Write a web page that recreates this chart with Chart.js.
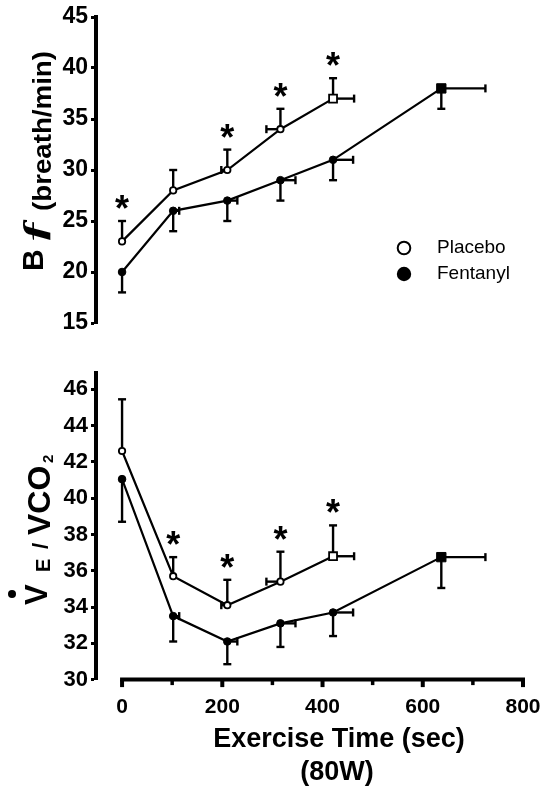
<!DOCTYPE html>
<html>
<head>
<meta charset="utf-8">
<script src="https://cdn.jsdelivr.net/npm/chart.js@4.4.1/dist/chart.umd.min.js"></script>
<style>
  html, body { margin: 0; padding: 0; background: #fff; }
  #wrap { position: relative; width: 556px; height: 793px; }
  canvas { position: absolute; left: 0; }
  #bfChart { top: 0; }
  #veChart { top: 340px; }
</style>
</head>
<body>
<div id="wrap">
  <canvas id="bfChart" width="556" height="340"></canvas>
  <canvas id="veChart" width="556" height="453"></canvas>
</div>
<script>
const FONT = '"Liberation Sans", Arial, sans-serif';

// exercise time of each stage (sec)
const placeboTime = [0, 102, 210, 316, 421];
const fentanylTime = [0, 102, 210, 316, 421, 637];
// horizontal SE of time (one sided, as drawn in the figure)
const placeboTimeLo = [0, 0, 12, 28, 0];
const placeboTimeHi = [0, 0, 0, 0, 42];
const fentanylTimeHi = [0, 12, 20, 30, 40, 88];

// breathing frequency (breath/min)
const bfPlacebo = [23, 28, 30, 34, 37];
const bfPlaceboErr = [2, 2, 2, 2, 2];
const bfFentanyl = [20, 26, 27, 29, 31, 38];
const bfFentanylErr = [2, 2, 2, 2, 2, 2];
const bfStars = [0, 2, 3, 4];
const bfTicks = [15, 20, 25, 30, 35, 40, 45];

// VE / VCO2
const vePlacebo = [42.6, 35.7, 34.1, 35.4, 36.8];
const vePlaceboErr = [2.85, 1.05, 1.4, 1.65, 1.7];
const veFentanyl = [41.05, 33.5, 32.1, 33.1, 33.7, 36.75];
const veFentanylErr = [2.35, 1.4, 1.25, 1.3, 1.3, 1.7];
const veStars = [1, 2, 3, 4];
const veTicks = [30, 32, 34, 36, 38, 40, 42, 44, 46];

const xTicks = [0, 200, 400, 600, 800];
const xMinorTicks = [100, 300, 500, 700];
const legendLabels = ['Placebo', 'Fentanyl'];

const toPoints = (xs, ys) => xs.map((t, i) => ({ x: t, y: ys[i] }));

function makeDatasets(pY, pErr, fY, fErr) {
  return [
    {
      label: legendLabels[0],
      data: toPoints(placeboTime, pY),
      errUp: pErr, errDown: [], tLo: placeboTimeLo, tHi: placeboTimeHi,
      borderColor: '#000', borderWidth: 2.2,
      pointStyle: ['circle', 'circle', 'circle', 'circle', 'rect'],
      pointRadius: [3.2, 3.2, 3.2, 3.2, 5.6],
      pointBackgroundColor: '#fff', pointBorderColor: '#000', pointBorderWidth: 1.8
    },
    {
      label: legendLabels[1],
      data: toPoints(fentanylTime, fY),
      errUp: [], errDown: fErr, tLo: [], tHi: fentanylTimeHi,
      borderColor: '#000', borderWidth: 2.2,
      pointStyle: ['circle', 'circle', 'circle', 'circle', 'circle', 'rect'],
      pointRadius: [3.8, 3.8, 3.8, 3.8, 3.8, 6.6],
      pointBackgroundColor: '#000', pointBorderColor: '#000', pointBorderWidth: 1
    }
  ];
}

// vertical and horizontal error bars, under the markers
const errorBars = {
  id: 'errorBars',
  beforeDatasetsDraw(chart) {
    const { ctx, scales: { x, y } } = chart;
    ctx.save();
    ctx.strokeStyle = '#000';
    ctx.lineWidth = 2.4;
    const cap = 4;
    const seg = (x1, y1, x2, y2) => { ctx.beginPath(); ctx.moveTo(x1, y1); ctx.lineTo(x2, y2); ctx.stroke(); };
    chart.data.datasets.forEach(ds => {
      ds.data.forEach((p, i) => {
        const px = x.getPixelForValue(p.x), py = y.getPixelForValue(p.y);
        [ds.errUp[i], -(ds.errDown[i] || 0)].forEach(e => {
          if (!e) return;
          const ey = y.getPixelForValue(p.y + e);
          seg(px, py, px, ey);
          seg(px - cap, ey, px + cap, ey);
        });
        [-(ds.tLo[i] || 0), ds.tHi[i]].forEach(e => {
          if (!e) return;
          const ex = x.getPixelForValue(p.x + e);
          seg(px, py, ex, py);
          seg(ex, py - cap, ex, py + cap);
        });
      });
    });
    ctx.restore();
  },
  afterDatasetsDraw(chart, args, opts) {
    const { ctx, scales: { x, y } } = chart;
    const ds = chart.data.datasets[0];
    ctx.save();
    ctx.fillStyle = '#000';
    ctx.font = 'bold 36px ' + FONT;
    ctx.textAlign = 'center';
    ctx.textBaseline = 'alphabetic';
    const m = ctx.measureText('*');
    const half = (m.actualBoundingBoxAscent - m.actualBoundingBoxDescent) / 2;
    opts.stars.forEach(i => {
      const p = ds.data[i];
      const top = y.getPixelForValue(p.y + ds.errUp[i]);
      ctx.fillText('*', x.getPixelForValue(p.x), top - 19 + half);
    });
    ctx.restore();
  }
};

function rotatedText(ctx, str, font, bx, startY, len) {
  ctx.save();
  ctx.font = font;
  ctx.translate(bx, startY);
  ctx.rotate(-Math.PI / 2);
  if (len) ctx.scale(len / ctx.measureText(str).width, 1);
  ctx.textAlign = 'left';
  ctx.textBaseline = 'alphabetic';
  ctx.fillText(str, 0, 0);
  ctx.restore();
}

// y titles, legend and the offset x axis
const decorations = {
  id: 'decorations',
  afterDraw(chart, args, opts) {
    const { ctx } = chart;
    ctx.save();
    ctx.fillStyle = '#000';
    ctx.strokeStyle = '#000';
    if (opts.panel === 'bf') {
      rotatedText(ctx, 'B', 'bold 30px ' + FONT, 43, 271);
      rotatedText(ctx, 'ƒ', 'bold italic 34px "Liberation Serif", serif', 45, 244, 26);
      rotatedText(ctx, '(breath/min)', 'bold 25px ' + FONT, 51, 211, 160);

      // legend
      ctx.lineWidth = 2;
      ctx.beginPath(); ctx.arc(404, 248, 6.3, 0, Math.PI * 2);
      ctx.fillStyle = '#fff'; ctx.fill(); ctx.stroke();
      ctx.fillStyle = '#000';
      ctx.beginPath(); ctx.arc(404, 274, 7.2, 0, Math.PI * 2); ctx.fill();
      ctx.font = '19px ' + FONT;
      ctx.textBaseline = 'middle';
      ctx.fillText(chart.data.datasets[0].label, 437, 248);
      ctx.fillText(chart.data.datasets[1].label, 437, 274);
    } else {
      const off = 340;
      rotatedText(ctx, 'V', 'bold 31px ' + FONT, 47, 605 - off);
      ctx.beginPath(); ctx.arc(12, 594 - off, 4, 0, Math.PI * 2); ctx.fill();
      rotatedText(ctx, 'E', 'bold 20px ' + FONT, 50, 572 - off);
      rotatedText(ctx, '/', 'bold 22px ' + FONT, 48, 549 - off);
      rotatedText(ctx, 'VCO', 'bold 32px ' + FONT, 50, 535 - off);
      rotatedText(ctx, '2', 'bold 15px ' + FONT, 53, 463 - off);

      // x axis, offset from the y axis
      const x = chart.scales.x;
      const yb = chart.chartArea.bottom;
      ctx.lineWidth = 4;
      ctx.beginPath();
      ctx.moveTo(x.getPixelForValue(xTicks[0]) - 2, yb);
      ctx.lineTo(x.getPixelForValue(xTicks[xTicks.length - 1]) + 2, yb);
      ctx.stroke();
      xTicks.forEach(v => {
        const px = x.getPixelForValue(v);
        ctx.beginPath(); ctx.moveTo(px, yb); ctx.lineTo(px, yb + 7.5); ctx.stroke();
      });
      ctx.lineWidth = 3.5;
      xMinorTicks.forEach(v => {
        const px = x.getPixelForValue(v);
        ctx.beginPath(); ctx.moveTo(px, yb); ctx.lineTo(px, yb + 5.5); ctx.stroke();
      });
      ctx.font = 'bold 27px ' + FONT;
      ctx.textAlign = 'center';
      ctx.textBaseline = 'alphabetic';
      ctx.fillText('Exercise Time (sec)', 339, 747 - off);
      ctx.fillText('(80W)', 337, 780 - off);
    }
    ctx.restore();
  }
};

function yAxis(min, max, ticks, size) {
  return {
    type: 'linear', min, max,
    afterFit: s => { s.width = 96; },
    afterBuildTicks: s => { s.ticks = ticks.map(v => ({ value: v })); },
    border: { display: true, color: '#000', width: 4 },
    grid: { drawOnChartArea: false, drawTicks: true, tickLength: 5, tickWidth: 3, tickColor: '#000' },
    ticks: { color: '#000', padding: 3, font: { family: FONT, size, weight: 'bold' } }
  };
}

function makeChart(id, panel, datasets, yScale, stars, padding, showX) {
  return new Chart(document.getElementById(id), {
    type: 'line',
    data: { datasets },
    options: {
      responsive: false,
      animation: false,
      devicePixelRatio: 1,
      layout: { padding },
      plugins: {
        legend: { display: false },
        tooltip: { enabled: false },
        errorBars: { stars },
        decorations: { panel }
      },
      scales: {
        x: {
          type: 'linear', min: -52, max: 800,
          display: showX,
          afterFit: s => { s.height = showX ? 113.4 : 0; },
          afterBuildTicks: s => { s.ticks = xTicks.map(v => ({ value: v })); },
          border: { display: false },
          grid: { display: false, drawTicks: false },
          ticks: { color: '#000', padding: 15, maxRotation: 0, font: { family: FONT, size: 21, weight: 'bold' } }
        },
        y: yScale
      }
    },
    plugins: [errorBars, decorations]
  });
}

makeChart('bfChart', 'bf', makeDatasets(bfPlacebo, bfPlaceboErr, bfFentanyl, bfFentanylErr),
  yAxis(15, 45, bfTicks, 23), bfStars, { left: 0, right: 33, top: 17, bottom: 17 }, false);

makeChart('veChart', 've', makeDatasets(vePlacebo, vePlaceboErr, veFentanyl, veFentanylErr),
  yAxis(30, 46.9, veTicks, 22), veStars, { left: 0, right: 33, top: 33, bottom: 0 }, true);
</script>
</body>
</html>
